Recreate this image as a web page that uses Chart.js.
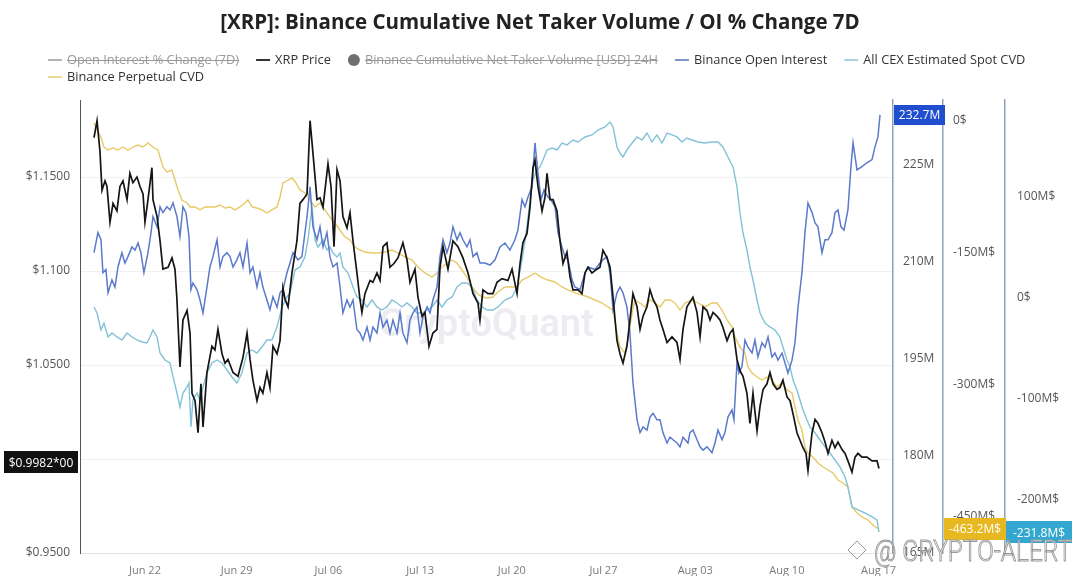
<!DOCTYPE html>
<html><head><meta charset="utf-8">
<script src="https://cdn.jsdelivr.net/npm/chart.js"></script>
<style>html,body{margin:0;padding:0;background:#fff;overflow:hidden}#wrap{width:1080px;height:576px}</style>
</head><body><div id="wrap"><canvas id="c" width="1080" height="576"></canvas></div>
<script>
// ---------- DATA ----------
const titleText = '[XRP]: Binance Cumulative Net Taker Volume / OI % Change 7D';
// x values: days relative to Jun 22
const tickDays = [0,7,14,21,28,35,42,49,56];
const tickLabels = ['Jun 22','Jun 29','Jul 06','Jul 13','Jul 20','Jul 27','Aug 03','Aug 10','Aug 17'];

const priceTicks = [0.95,1.0,1.05,1.1,1.15];
const priceTickLabels = ['$0.9500','$1.0000','$1.0500','$1.100','$1.1500'];
const oiTicks = [165,180,195,210,225];
const perpTicks = [-450,-300,-150,0];
const spotTicks = [-200,-100,0,100];

const priceLastLabel = '$0.9982*00';
const priceLast = 0.9982;

const priceDays = [-3.89,-3.66,-3.44,-3.28,-3.05,-2.9,-2.67,-2.44,-2.14,-1.91,
-1.68,-1.37,-1.15,-0.92,-0.61,-0.38,-0.15,0,0.23,0.53,
0.61,0.92,1.15,1.37,1.76,2.06,2.29,2.44,2.67,2.9,
3.21,3.44,3.59,3.82,4.05,4.27,4.43,4.73,5.11,5.34,
5.57,5.88,6.11,6.34,6.72,7.1,7.48,7.79,8.02,8.24,
8.55,8.78,9.0,9.31,9.54,9.77,10.08,10.31,10.53,10.69,
10.92,11.22,11.6,11.83,12.06,12.37,12.6,12.82,13.13,13.36,
13.59,13.97,14.2,14.43,14.66,14.89,15.11,15.42,15.65,15.88,
16.18,16.41,16.56,16.79,17.18,17.4,17.71,17.94,18.17,18.47,
18.7,19.0,19.31,19.69,20.0,20.23,20.61,20.84,21.15,21.37,
21.68,21.98,22.29,22.52,22.75,23.13,23.51,23.89,24.27,24.66,
25.04,25.42,25.57,25.8,26.18,26.56,26.87,27.25,27.71,28.02,
28.4,28.63,28.85,29.16,29.39,29.62,29.77,30.0,30.31,30.53,
30.69,30.92,31.15,31.45,31.68,31.91,32.21,32.44,32.67,33.05,
33.36,33.59,33.82,34.12,34.5,34.73,34.96,35.27,35.5,35.73,
36.03,36.26,36.49,36.79,37.02,37.25,37.56,37.79,38.02,38.32,
38.55,38.78,39.08,39.31,39.54,39.85,40.23,40.61,40.84,41.07,
41.37,41.83,42.14,42.37,42.6,42.9,43.13,43.36,43.66,43.89,
44.12,44.43,44.66,44.89,45.19,45.42,45.65,45.95,46.18,46.41,
46.72,46.95,47.18,47.48,47.71,47.94,48.24,48.47,48.7,49.01,
49.24,49.47,49.77,50.0,50.23,50.46,50.61,50.92,51.15,51.37,
51.68,51.91,52.14,52.44,52.67,52.9,53.21,53.44,53.66,53.97,
54.2,54.43,54.73,55.11,55.5,55.88,56.03];
const priceValues = [1.171,1.180,1.164,1.143,1.148,1.145,1.126,1.136,1.132,1.145,
1.148,1.138,1.152,1.147,1.150,1.145,1.141,1.126,1.138,1.155,
1.138,1.129,1.116,1.101,1.102,1.107,1.101,1.085,1.049,1.074,
1.079,1.067,1.035,1.031,1.014,1.040,1.017,1.046,1.060,1.058,
1.069,1.056,1.051,1.053,1.046,1.044,1.054,1.067,1.053,1.042,
1.031,1.038,1.035,1.046,1.038,1.060,1.056,1.063,1.091,1.085,
1.081,1.099,1.116,1.136,1.138,1.141,1.180,1.163,1.138,1.139,
1.134,1.157,1.145,1.113,1.154,1.148,1.129,1.123,1.131,1.116,
1.099,1.085,1.078,1.088,1.095,1.094,1.099,1.095,1.113,1.115,
1.102,1.104,1.107,1.115,1.106,1.094,1.101,1.086,1.076,1.078,
1.060,1.067,1.069,1.102,1.113,1.101,1.116,1.113,1.107,1.099,
1.088,1.083,1.074,1.090,1.088,1.088,1.094,1.096,1.095,1.101,
1.088,1.104,1.115,1.120,1.134,1.155,1.159,1.145,1.132,1.139,
1.152,1.138,1.138,1.132,1.116,1.104,1.110,1.097,1.090,1.090,
1.088,1.099,1.102,1.099,1.101,1.102,1.111,1.107,1.102,1.086,
1.063,1.056,1.051,1.060,1.074,1.088,1.081,1.069,1.076,1.081,
1.090,1.085,1.081,1.074,1.069,1.062,1.065,1.062,1.053,1.069,
1.081,1.086,1.078,1.065,1.081,1.079,1.074,1.078,1.076,1.074,
1.070,1.063,1.067,1.069,1.053,1.047,1.044,1.035,1.019,1.035,
1.015,1.028,1.037,1.040,1.046,1.040,1.037,1.038,1.042,1.033,
1.031,1.024,1.014,1.010,1.006,1.003,0.994,1.014,1.021,1.019,
1.014,1.009,1.003,1.010,1.006,1.009,1.005,1.003,0.999,0.993,
1.001,1.003,1.001,1.001,0.999,0.999,0.995];

const oiDays = [-3.89,-3.59,-3.36,-3.21,-2.98,-2.82,-2.52,-2.29,-2.06,-1.76,
-1.53,-1.3,-0.99,-0.76,-0.53,-0.31,-0.08,0.23,0.46,0.61,
0.92,1.15,1.37,1.68,1.91,2.14,2.44,2.67,2.9,3.13,
3.36,3.51,3.66,3.97,4.2,4.43,4.73,4.96,5.19,5.5,
5.73,5.95,6.26,6.49,6.72,7.02,7.25,7.48,7.79,8.02,
8.24,8.55,8.78,9.0,9.31,9.54,9.77,10.08,10.31,10.53,
10.84,11.07,11.3,11.68,11.98,12.37,12.6,12.82,13.13,13.36,
13.59,13.89,14.12,14.35,14.66,14.89,15.11,15.42,15.65,15.88,
16.18,16.41,16.64,16.95,17.18,17.4,17.71,17.94,18.17,18.47,
18.7,18.93,19.24,19.47,19.69,20.0,20.23,20.46,20.76,20.99,
21.22,21.53,21.76,21.98,22.29,22.52,22.75,23.05,23.28,23.51,
23.82,24.05,24.27,24.58,24.81,25.04,25.34,25.57,25.95,26.34,
26.72,27.1,27.48,27.86,28.24,28.47,28.78,29.01,29.24,29.54,
29.77,30.0,30.23,30.46,30.76,30.99,31.3,31.53,31.83,32.06,
32.29,32.6,32.82,33.21,33.59,33.82,34.35,34.73,34.96,35.27,
35.5,35.73,36.03,36.26,36.49,36.79,37.02,37.25,37.56,37.79,
38.02,38.32,38.55,38.78,39.08,39.31,39.54,39.85,40.08,40.31,
40.61,40.84,41.07,41.45,41.6,41.83,42.14,42.37,42.6,42.9,
43.28,43.51,43.74,44.05,44.27,44.5,44.81,44.96,45.19,45.34,
45.57,45.8,46.03,46.34,46.56,46.79,47.1,47.33,47.56,47.86,
48.09,48.32,48.63,48.85,49.08,49.39,49.62,49.85,50.15,50.38,
50.61,50.92,51.15,51.37,51.68,51.91,52.14,52.44,52.67,52.9,
53.13,53.36,53.66,53.89,54.05,54.35,54.73,55.11,55.5,55.73,
55.95,56.11];
const oiValues = [211.4,214.5,213.4,208.3,208.8,205.2,207.2,206.1,209.2,211.4,
209.8,210.8,212.3,211.8,212.9,211.4,208.3,211.4,214.5,217.0,
215.4,218.5,217.6,218.5,218.0,219.1,217.0,213.9,218.5,217.6,
213.9,205.7,206.7,205.7,204.1,202.1,206.1,209.2,210.8,213.4,
209.2,210.8,211.4,210.8,209.2,210.3,211.4,209.2,212.9,208.3,
209.2,206.1,208.3,206.1,204.1,202.6,204.6,203.0,205.2,205.7,
208.3,209.8,211.4,210.3,210.8,217.0,221.6,215.4,213.4,215.4,
212.3,214.5,210.8,209.2,209.8,206.1,202.1,204.1,203.0,204.1,
199.5,199.0,197.9,199.9,197.9,199.9,199.0,202.1,199.9,201.0,
199.0,201.0,199.0,202.1,199.0,197.5,201.0,202.1,203.0,199.0,
201.5,203.0,202.1,204.1,206.1,210.8,213.4,211.4,212.9,215.4,
213.4,214.5,213.4,212.3,213.4,210.8,211.4,209.8,209.8,209.5,
210.3,212.3,212.9,211.8,213.4,214.9,219.6,218.5,220.0,221.6,
228.4,223.7,219.6,221.1,220.0,219.6,218.5,214.5,212.3,210.8,
210.3,207.2,206.1,205.7,208.3,209.2,208.8,209.8,210.3,210.8,
208.3,202.6,205.2,206.1,205.2,203.0,199.0,191.3,185.6,183.6,
184.5,184.0,186.0,186.6,185.6,185.6,183.6,182.0,182.9,182.5,
182.0,181.4,182.9,182.0,183.6,184.0,182.5,181.4,180.9,181.4,
180.5,182.0,184.0,182.5,183.6,186.0,187.1,185.6,194.4,192.8,
193.8,197.9,196.8,195.9,197.9,195.3,197.5,196.8,198.4,195.3,
195.9,194.8,195.9,194.4,192.8,194.8,197.5,203.0,208.3,214.5,
219.1,217.6,216.0,215.4,211.4,213.4,213.4,214.5,217.6,218.0,
215.4,214.9,218.0,224.7,228.4,224.2,224.7,225.3,225.8,227.8,
229.3,232.7];

const spotDays = [-3.89,-3.66,-3.36,-3.13,-2.82,-2.52,-2.14,-1.76,-1.37,-0.99,
-0.61,-0.23,0.15,0.38,0.61,0.92,1.15,1.53,1.91,2.14,
2.44,2.67,2.9,3.21,3.36,3.51,3.66,3.97,4.2,4.43,
4.73,5.11,5.5,5.88,6.26,6.64,7.02,7.4,7.79,8.17,
8.55,8.93,9.31,9.69,10.08,10.46,10.84,11.07,11.45,11.83,
12.21,12.44,12.75,12.98,13.21,13.59,13.89,14.12,14.35,14.66,
14.89,15.11,15.5,15.88,16.18,16.56,16.95,17.33,17.71,18.09,
18.47,18.85,19.24,19.62,20.0,20.38,20.76,21.15,21.53,21.91,
22.29,22.67,23.05,23.44,23.82,24.2,24.58,24.96,25.34,25.73,
26.11,26.56,26.95,27.48,28.02,28.4,28.78,29.16,29.39,29.62,
29.92,30.15,30.38,30.69,31.07,31.45,31.83,32.21,32.67,33.05,
33.59,34.12,34.58,35.11,35.5,35.73,36.03,36.26,36.49,36.79,
37.18,37.56,37.94,38.32,38.7,39.08,39.47,39.85,40.23,40.61,
40.99,41.37,41.76,42.21,42.75,43.28,43.74,44.12,44.5,44.89,
45.19,45.42,45.65,45.95,46.18,46.41,46.72,46.95,47.33,47.71,
48.09,48.47,48.7,49.01,49.24,49.47,49.77,50.0,50.23,50.53,
50.76,51.15,51.53,51.91,52.29,52.67,53.05,53.44,53.66,53.97,
54.43,54.96,55.5,55.88,56.03];
const spotValues = [-8.9,-14.9,-31.7,-24.8,-38.6,-34.7,-38.6,-41.6,-34.7,-38.6,
-41.6,-43.6,-44.6,-38.6,-31.7,-38.6,-54.5,-61.4,-64.4,-78.2,
-94.1,-107.9,-94.1,-88.1,-84.2,-127.7,-101.0,-94.1,-101.0,-88.1,
-74.3,-64.4,-61.4,-64.4,-71.3,-78.2,-84.2,-74.3,-54.5,-51.5,
-54.5,-48.5,-41.6,-41.6,-28.7,-8.9,1.0,4.9,27.7,30.7,
40.6,57.4,90.1,57.4,50.5,57.4,47.5,50.5,44.5,40.6,
44.5,30.7,24.7,10.9,1.0,-2.0,-8.9,-2.0,-8.9,-11.9,
-8.9,-2.0,-5.0,-8.9,-5.0,-8.9,-14.9,-14.9,-11.9,-8.9,
-2.0,-8.9,-2.0,1.0,10.9,14.8,14.8,10.9,-2.0,-8.9,
-11.9,-11.9,-8.9,-2.0,1.0,10.9,37.6,70.3,97.0,116.8,
126.7,129.7,136.6,146.5,148.5,146.5,153.4,151.5,156.4,154.4,
159.4,161.4,166.3,169.3,174.2,169.3,149.5,143.5,139.6,146.5,
153.4,159.4,156.4,163.3,154.4,161.4,153.4,163.3,161.4,159.4,
154.4,158.4,156.4,154.4,153.4,154.4,154.4,149.5,139.6,129.7,
109.9,84.1,64.3,47.5,30.7,17.8,-2.0,-14.9,-24.8,-28.7,
-31.7,-38.6,-48.5,-61.4,-68.3,-81.2,-91.1,-101.0,-110.9,-120.8,
-127.7,-133.7,-140.6,-147.5,-153.5,-160.4,-167.3,-177.2,-187.1,-206.9,
-209.9,-212.9,-216.8,-219.8,-231.8];

const perpDays = [-3.89,-3.66,-3.36,-3.13,-2.82,-2.44,-2.06,-1.68,-1.3,-0.92,
-0.53,-0.15,0.23,0.61,0.99,1.37,1.68,2.06,2.29,2.52,
2.82,3.21,3.44,3.82,4.2,4.58,4.96,5.34,5.73,6.11,
6.49,6.87,7.25,7.63,7.86,8.17,8.55,8.93,9.31,9.69,
10.08,10.31,10.53,10.92,11.22,11.53,11.83,12.21,12.6,12.98,
13.36,13.74,14.12,14.5,14.89,15.27,15.65,16.03,16.41,16.79,
17.33,17.79,18.32,18.85,19.31,19.85,20.38,20.84,21.37,21.91,
22.29,22.67,23.05,23.44,23.82,24.2,24.58,24.96,25.34,25.73,
26.11,26.56,26.95,27.48,28.02,28.4,28.78,29.24,29.77,30.23,
30.76,31.3,31.83,32.29,32.82,33.36,33.82,34.35,34.89,35.34,
35.73,36.03,36.26,36.64,36.87,37.18,37.4,37.79,38.17,38.55,
38.93,39.31,39.69,40.08,40.46,40.84,41.22,41.76,42.21,42.75,
43.28,43.66,44.05,44.43,44.81,45.04,45.42,45.8,46.03,46.34,
46.72,47.1,47.48,47.86,48.24,48.63,49.01,49.39,49.62,49.85,
50.15,50.38,50.61,50.99,51.37,51.76,52.14,52.52,52.9,53.28,
53.66,53.97,54.35,54.73,55.19,55.57,55.95];
const perpValues = [-2.4,-10.4,-18.3,-29.7,-33.1,-30.8,-33.1,-29.7,-33.1,-29.7,
-27.4,-29.7,-25.1,-29.7,-33.1,-52.4,-58.1,-55.8,-67.2,-78.5,
-89.9,-93.3,-97.8,-97.8,-101.2,-97.8,-97.8,-97.8,-95.6,-99.0,
-97.8,-101.2,-97.8,-93.3,-89.9,-97.8,-99.0,-101.2,-104.7,-101.2,
-97.8,-86.5,-70.6,-67.2,-64.9,-70.6,-78.5,-81.9,-89.9,-97.8,
-93.3,-101.2,-109.2,-116.0,-124.0,-131.9,-135.3,-143.3,-146.7,-149.0,
-150.1,-150.1,-149.0,-146.7,-150.1,-154.6,-158.0,-166.0,-172.8,-177.4,
-172.8,-166.0,-161.5,-158.0,-161.5,-169.4,-177.4,-188.7,-195.5,-200.1,
-201.2,-200.1,-194.4,-188.7,-188.7,-188.7,-180.8,-177.4,-172.8,-177.4,
-180.8,-183.0,-188.7,-192.1,-195.5,-197.8,-200.1,-203.5,-206.9,-211.4,
-214.9,-240.9,-256.9,-263.7,-248.9,-218.3,-203.5,-206.9,-211.4,-203.5,
-206.9,-211.4,-203.5,-203.5,-206.9,-214.9,-206.9,-203.5,-206.9,-211.4,
-206.9,-206.9,-214.9,-226.2,-234.2,-245.5,-256.9,-263.7,-279.6,-286.4,
-291.0,-294.4,-291.0,-294.4,-302.3,-297.8,-305.7,-309.1,-325.0,-339.8,
-351.2,-370.5,-377.3,-381.8,-388.7,-393.2,-396.6,-400.0,-408.0,-411.4,
-415.9,-438.6,-445.5,-450.0,-453.4,-459.1,-463.2];

// ---------- STYLE ----------
const FONT = "'Open Sans', 'Noto Sans', 'DejaVu Sans', sans-serif";
Chart.defaults.font.family = FONT;
const C = {price:'#151515', oi:'#5b7acb', spot:'#82c2d8', perp:'#e6ca68'};

const legendItems = [
  {text:'Open Interest % Change (7D)', color:'#b4b4b4', style:'line', hidden:true},
  {text:'XRP Price', color:'#333', style:'line'},
  {text:'Binance Cumulative Net Taker Volume [USD] 24H', color:'#6f6f6f', style:'circle', hidden:true},
  {text:'Binance Open Interest', color:'#7f94c8', style:'line'},
  {text:'All CEX Estimated Spot CVD', color:'#a9d5e5', style:'line'},
  {text:'Binance Perpetual CVD', color:'#eddb92', style:'line', newRow:true}
];

function pts(ds, vs){ return ds.map((d,i)=>({x:d, y:vs[i]})); }
function fixedTicks(list){ return s => { s.ticks = list.map(v=>({value:v})); }; }
function fixW(w){ return s => { s.width = w; }; }
function mFmt(v){ return v === 0 ? '0$' : v + 'M$'; }

const tickFont = {size:12, family:FONT};

function badge(ctx, x, w, yc, h, bg, text){
  ctx.fillStyle = bg; ctx.fillRect(x, Math.round(yc - h/2), w, h);
  ctx.fillStyle = '#fff'; ctx.font = '12px ' + FONT;
  ctx.textAlign = 'center'; ctx.textBaseline = 'middle';
  ctx.fillText(text, x + w/2, yc + 1);
}

const decor = {
  id:'decor',
  beforeDatasetsDraw(chart){
    const {ctx, chartArea:a} = chart;
    ctx.save();
    ctx.font = "600 38px Roboto, sans-serif";
    ctx.fillStyle = 'rgba(200,200,214,0.34)';
    ctx.textAlign = 'center'; ctx.textBaseline = 'middle';
    ctx.fillText('CryptoQuant', (a.left + a.right)/2, (a.top + a.bottom)/2);
    ctx.restore();
  },
  afterDraw(chart){
    const {ctx} = chart;
    ctx.save();
    // legend
    ctx.font = '12.8px ' + FONT; ctx.textBaseline = 'middle'; ctx.textAlign = 'left';
    let x = 48, y = 60;
    legendItems.forEach(it => {
      if (it.newRow){ x = 48; y = 77; }
      let tx;
      if (it.style === 'circle'){
        ctx.fillStyle = it.color; ctx.beginPath(); ctx.arc(x + 6, y, 6, 0, Math.PI*2); ctx.fill();
        tx = x + 17;
      } else {
        ctx.strokeStyle = it.color; ctx.lineWidth = 2; ctx.beginPath();
        ctx.moveTo(x, y); ctx.lineTo(x + 14, y); ctx.stroke();
        tx = x + 19;
      }
      ctx.fillStyle = it.hidden ? '#9a9a9a' : '#333';
      ctx.fillText(it.text, tx, y);
      const w = ctx.measureText(it.text).width;
      if (it.hidden){
        ctx.strokeStyle = '#9a9a9a'; ctx.lineWidth = 1; ctx.beginPath();
        ctx.moveTo(tx, y + 0.5); ctx.lineTo(tx + w, y + 0.5); ctx.stroke();
      }
      x = tx + w + 17;
    });
    // badges
    const s = chart.scales;
    badge(ctx, 4, 74, s.yPrice.getPixelForValue(priceLast), 22, '#111', priceLastLabel);
    const oiLast = oiValues[oiValues.length-1];
    badge(ctx, s.yOI.left + 1, 51, s.yOI.getPixelForValue(oiLast), 20, '#1f4fce', oiLast.toFixed(1) + 'M');
    const perpLast = perpValues[perpValues.length-1];
    badge(ctx, s.yPerp.left + 1, 62, s.yPerp.getPixelForValue(perpLast), 22, '#e7b81f', perpLast.toFixed(1) + 'M$');
    const spotLast = spotValues[spotValues.length-1];
    badge(ctx, s.ySpot.left + 1, 66, s.ySpot.getPixelForValue(spotLast), 22, '#33a7cf', spotLast.toFixed(1) + 'M$');
    // watermark
    ctx.strokeStyle = '#9a9a9a'; ctx.lineWidth = 1;
    ctx.beginPath(); ctx.moveTo(857, 541); ctx.lineTo(866, 550); ctx.lineTo(857, 559); ctx.lineTo(848, 550); ctx.closePath(); ctx.stroke();
    ctx.font = "300 30px Roboto, sans-serif"; ctx.textBaseline = 'alphabetic'; ctx.textAlign = 'left';
    const wm = '@ CRYPTO-ALERT';
    const mw = ctx.measureText(wm).width;
    ctx.translate(874, 561); ctx.scale(198 / mw, 1);
    ctx.fillStyle = 'rgba(255,255,255,0.8)'; ctx.fillText(wm, 0, 0);
    ctx.strokeText(wm, 0, 0);
    ctx.restore();
  }
};

new Chart(document.getElementById('c'), {
  type:'line',
  data:{datasets:[
    {label:'XRP Price', data:pts(priceDays, priceValues), yAxisID:'yPrice', borderColor:C.price, borderWidth:1.7, order:0},
    {label:'Binance Open Interest', data:pts(oiDays, oiValues), yAxisID:'yOI', borderColor:C.oi, borderWidth:1.5, order:1},
    {label:'All CEX Estimated Spot CVD', data:pts(spotDays, spotValues), yAxisID:'ySpot', borderColor:C.spot, borderWidth:1.4, order:2},
    {label:'Binance Perpetual CVD', data:pts(perpDays, perpValues), yAxisID:'yPerp', borderColor:C.perp, borderWidth:1.4, order:3}
  ]},
  options:{
    responsive:false, animation:false, devicePixelRatio:1,
    elements:{point:{radius:0}, line:{tension:0, fill:false}},
    layout:{padding:0},
    plugins:{
      legend:{display:false}, tooltip:{enabled:false},
      title:{display:true, text:titleText, color:'#222', font:{family:FONT, size:20.5, weight:'bold'}, padding:{top:11, bottom:64.4}}
    },
    scales:{
      x:{type:'linear', min:-4.96, max:57.1, afterBuildTicks:fixedTicks(tickDays),
         ticks:{callback:(v,i)=>tickLabels[i], color:'#7a7a7a', font:{size:11, family:FONT}, padding:11, maxRotation:0, autoSkip:false},
         grid:{display:false, drawTicks:false}, border:{color:'#e4e4e4'}, afterFit:s=>{s.height = 23;}},
      yPrice:{position:'left', min:0.95, max:1.191, afterBuildTicks:fixedTicks(priceTicks),
         ticks:{callback:(v,i)=>priceTickLabels[i], color:'#555', font:tickFont, padding:10},
         grid:{color:'#f1f1f1', drawTicks:false}, border:{color:'#555', width:1}, afterFit:fixW(80)},
      yOI:{position:'right', weight:1, min:165, max:235.0, afterBuildTicks:fixedTicks(oiTicks),
         ticks:{callback:v=>v + 'M', color:'#555', font:tickFont, padding:10},
         grid:{display:false, drawTicks:false}, border:{color:'#8ea2b8', width:1.5}, afterFit:fixW(50)},
      yPerp:{position:'right', weight:2, min:-490.9, max:23.7, afterBuildTicks:fixedTicks(perpTicks),
         ticks:{callback:mFmt, color:'#555', font:tickFont, padding:10},
         grid:{display:false, drawTicks:false}, border:{color:'#8ea2b8', width:1.5}, afterFit:fixW(62)},
      ySpot:{position:'right', weight:3, min:-252.5, max:196.0, afterBuildTicks:fixedTicks(spotTicks),
         ticks:{callback:mFmt, color:'#555', font:tickFont, padding:12},
         grid:{display:false, drawTicks:false}, border:{color:'#8ea2b8', width:1.5}, afterFit:fixW(75)}
    }
  },
  plugins:[decor]
});
</script>
</body></html>
